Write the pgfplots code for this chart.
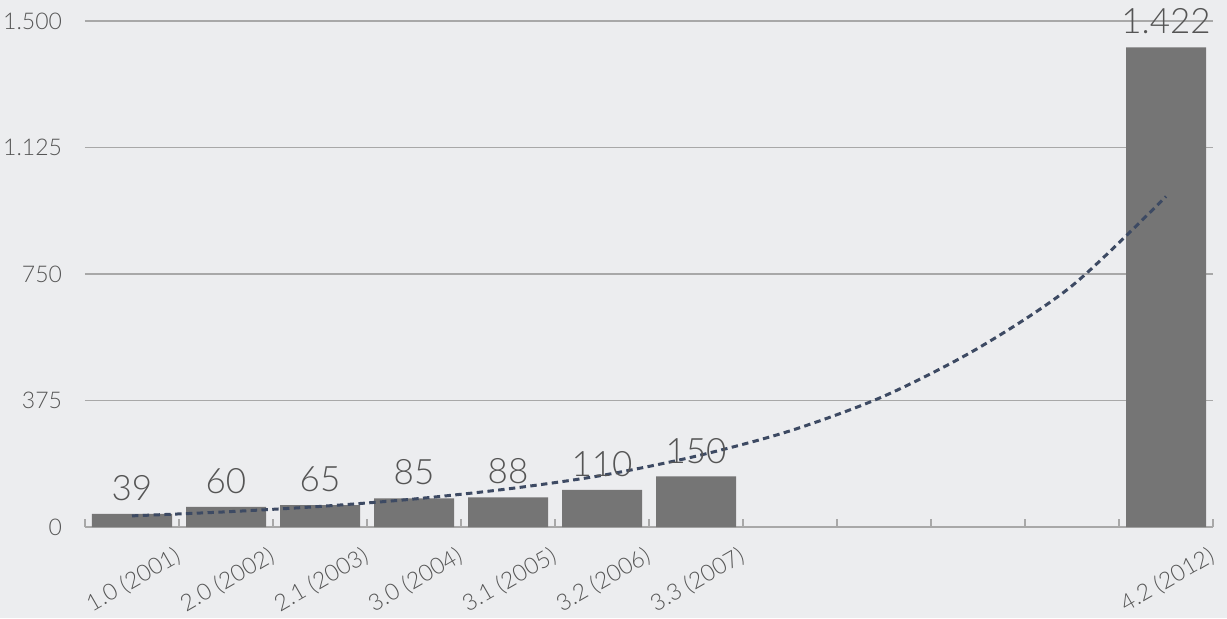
\documentclass[border=0pt]{standalone}
\usepackage{pgfplots}
\pgfplotsset{compat=1.18}
\usepackage{fontspec}
\setmainfont{Lato Light}
\definecolor{bg}{HTML}{ECEDEF}
\definecolor{barc}{HTML}{757575}
\definecolor{txt}{HTML}{555555}
\definecolor{gridc}{HTML}{A8A8A8}
\definecolor{trend}{HTML}{3D4A63}
\begin{document}
\begin{tikzpicture}
\path[use as bounding box, fill=bg] (-42.5pt,-45.5pt) rectangle (571pt,263.5pt);
\begin{axis}[
  at={(0,0)}, anchor=south west,
  scale only axis, width=564pt, height=253pt,
  xmin=0, xmax=12, ymin=0, ymax=1500,
  axis x line*=bottom, axis y line*=left,
  x axis line style={draw=gridc, line width=0.8pt, -},
  y axis line style={draw=none},
  xtick={0.5,1.5,2.5,3.5,4.5,5.5,6.5,11.5},
  xticklabels={1.0 (2001),2.0 (2002),2.1 (2003),3.0 (2004),3.1 (2005),3.2 (2006),3.3 (2007),4.2 (2012)},
  major x tick style={draw=none},
  minor xtick={0,1,...,12},
  minor x tick style={draw=gridc, line width=0.8pt},
  minor tick length=4pt,
  tick align=inside,
  xticklabel style={xshift=21pt, yshift=-7.5pt, rotate=30, anchor=north east, inner sep=1pt, font=\fontsize{11.5}{13}\selectfont, text=txt},
  ytick={0,375,750,1125,1500},
  ymajorgrids,
  major grid style={draw=gridc, line width=0.8pt},
  major y tick style={draw=none},
  yticklabel style={font=\fontsize{11.5}{13}\selectfont, text=txt, xshift=-8pt},
  /pgf/number format/.cd, 1000 sep={.}, assume math mode=true,
]
\addplot[ybar, bar width=40pt, fill=barc, draw=none,
  nodes near coords,
  nodes near coords style={font=\fontsize{17.5}{19}\selectfont, text=txt, yshift=3pt, /pgf/number format/1000 sep={.}, /pgf/number format/assume math mode=true}]
  coordinates {(0.5,39) (1.5,60) (2.5,65) (3.5,85) (4.5,88) (5.5,110) (6.5,150) (11.5,1422)};
\addplot[trend, line width=1.5pt, dash pattern=on 3.2pt off 2.2pt, smooth, mark=none]
  coordinates {(0.5,33) (1.5,45) (2.5,61) (3.5,83) (4.5,113) (5.5,153) (6.5,210) (7.5,285) (8.5,388) (9.5,530) (10.5,715) (11.5,980)};
\end{axis}
\end{tikzpicture}
\end{document}
